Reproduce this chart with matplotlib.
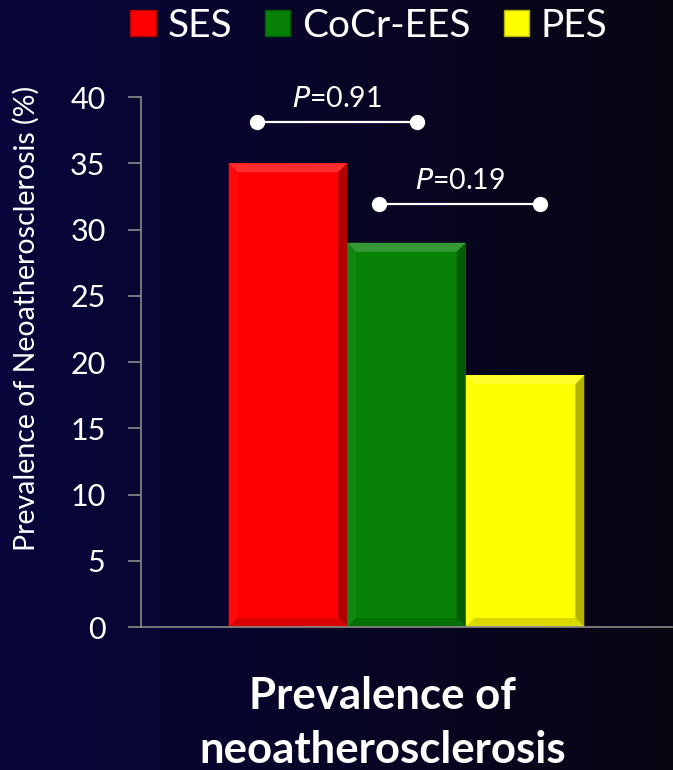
import numpy as np
import matplotlib
matplotlib.use("Agg")
import matplotlib.pyplot as plt
from matplotlib.patches import Polygon, Patch
from matplotlib.colors import to_rgb

# data
stents = ["SES", "CoCr-EES", "PES"]
prevalence = [35, 29, 19]
bar_colors = ["#ff0000", "#078207", "#ffff00"]
p_labels = ["0.91", "0.19"]
p_spans = [(-0.26, 1.09), (0.77, 2.13)]
p_heights = [38.1, 31.9]

plt.rcParams["font.family"] = ["Lato", "DejaVu Sans"]

fig = plt.figure(figsize=(6.73, 7.7), dpi=100)

# background gradient (navy -> almost black)
bg = fig.add_axes([0, 0, 1, 1], zorder=-10)
grad = np.linspace(0, 1, 256)[None, :]
left_c = np.array([0.03, 0.02, 0.23])
right_c = np.array([0.03, 0.02, 0.07])
img = left_c[None, None, :] * (1 - grad[..., None]) + right_c[None, None, :] * grad[..., None]
bg.imshow(img, aspect="auto", extent=[0, 1, 0, 1])
bg.axis("off")

ax = fig.add_axes([0.2095, 0.1857, 0.789, 0.6883])
ax.patch.set_alpha(0)
ax.set_xlim(-1.24, 3.24)
ax.set_ylim(0, 40)

x = np.arange(len(stents))
bars = ax.bar(x, prevalence, width=1.0, color=bar_colors, zorder=2)


def shade(c, f):
    c = np.array(to_rgb(c))
    if f > 0:
        return c + (1 - c) * f
    return c * (1 + f)


# bevel effect on each bar
fig.canvas.draw()
inv = ax.transData.inverted()
for b, c in zip(bars, bar_colors):
    x0, y0 = b.get_x(), b.get_y()
    x1, y1 = x0 + b.get_width(), y0 + b.get_height()
    px0 = ax.transData.transform((x0, y0))
    bx, by = inv.transform(px0 + np.array([9, 9])) - np.array([x0, y0])
    faces = [
        ([(x0, y1), (x1, y1), (x1 - bx, y1 - by), (x0 + bx, y1 - by)], 0.18),
        ([(x0, y0), (x0, y1), (x0 + bx, y1 - by), (x0 + bx, y0 + by)], 0.04),
        ([(x1, y0), (x1, y1), (x1 - bx, y1 - by), (x1 - bx, y0 + by)], -0.3),
        ([(x0, y0), (x1, y0), (x1 - bx, y0 + by), (x0 + bx, y0 + by)], -0.15),
    ]
    for pts, f in faces:
        ax.add_patch(Polygon(pts, closed=True, facecolor=shade(c, f),
                             edgecolor="none", zorder=3))

# p-value brackets
for (xa, xb), h, lab in zip(p_spans, p_heights, p_labels):
    ax.plot([xa, xb], [h, h], color="white", lw=1.6, marker="o",
            markersize=10, zorder=4, clip_on=False)
    ax.text((xa + xb) / 2, h + 0.8, "$\\it{P}$=" + lab, color="white",
            fontsize=20.5, ha="center", va="bottom")

for s in ["top", "right"]:
    ax.spines[s].set_visible(False)
for s in ["left", "bottom"]:
    ax.spines[s].set_color("#8a8a8a")
    ax.spines[s].set_linewidth(1.2)
ax.spines["bottom"].set_zorder(5)
ax.set_xticks([])
ax.set_yticks(range(0, 41, 5))
ax.tick_params(axis="y", colors="#8a8a8a", length=9.5, width=1.2,
               labelcolor="white", labelsize=22, pad=16)
ax.set_ylabel("Prevalence of Neoatherosclerosis (%)", color="white",
              fontsize=20.5)
ax.yaxis.set_label_coords(-0.19, 0.583)

handles = [Patch(facecolor=c, edgecolor=shade(c, -0.3), linewidth=1) for c in bar_colors]
fig.legend(handles, stents, loc="upper center", bbox_to_anchor=(0.548, 1.035),
           ncol=3, frameon=False, fontsize=28, labelcolor="white",
           handlelength=0.65, handleheight=0.65, handletextpad=0.3,
           columnspacing=0.85)

fig.text(0.569, 0.061, "Prevalence of\nneoatherosclerosis", color="white",
         fontsize=31.5, fontweight="bold", ha="center", va="center",
         linespacing=1.42)

fig.savefig("out.png", dpi=100)
